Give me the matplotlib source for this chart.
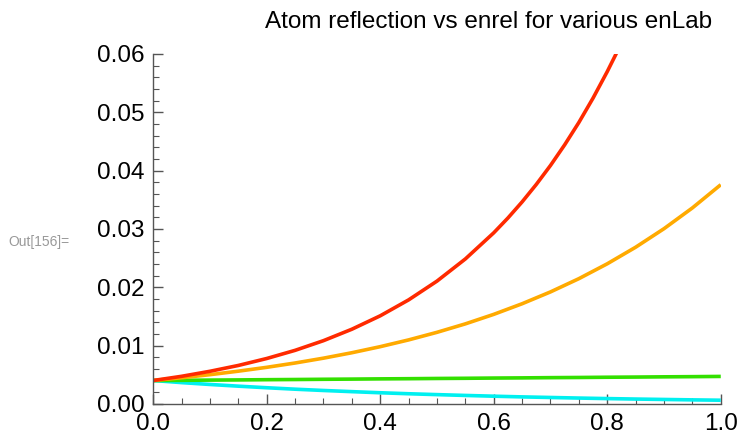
import matplotlib
matplotlib.use("Agg")
import matplotlib.pyplot as plt
from matplotlib.ticker import MultipleLocator

plt.rcParams['font.family'] = ['Liberation Sans', 'DejaVu Sans']

x = [0.00, 0.05, 0.10, 0.15, 0.20, 0.25, 0.30, 0.35, 0.40, 0.45, 0.50,
     0.55, 0.60, 0.65, 0.70, 0.75, 0.80, 0.85, 0.90, 0.95, 1.00]
x_red = [0.00, 0.05, 0.10, 0.15, 0.20, 0.25, 0.30, 0.35, 0.40, 0.45, 0.50,
         0.55, 0.60, 0.625, 0.65, 0.675, 0.70, 0.725, 0.75, 0.775, 0.80, 0.82]
red = [0.00400, 0.00472, 0.00558, 0.00658, 0.00777, 0.00917, 0.01083, 0.01279,
       0.01509, 0.01782, 0.02104, 0.02484, 0.02932, 0.03186, 0.03462, 0.03762,
       0.04087, 0.04441, 0.04824, 0.05242, 0.05696, 0.06086]
orange = [0.00400, 0.00447, 0.00500, 0.00560, 0.00626, 0.00700, 0.00783, 0.00876,
          0.00980, 0.01096, 0.01226, 0.01371, 0.01534, 0.01716, 0.01919, 0.02146,
          0.02401, 0.02685, 0.03003, 0.03359, 0.03757]
green = [0.00400, 0.00403, 0.00407, 0.00410, 0.00414, 0.00417, 0.00421, 0.00424,
         0.00428, 0.00431, 0.00435, 0.00438, 0.00442, 0.00445, 0.00449, 0.00452,
         0.00456, 0.00459, 0.00463, 0.00466, 0.00470]
cyan = [0.00400, 0.00364, 0.00332, 0.00303, 0.00276, 0.00251, 0.00229, 0.00209,
        0.00190, 0.00173, 0.00158, 0.00144, 0.00131, 0.00119, 0.00109, 0.00099,
        0.00090, 0.00082, 0.00075, 0.00068, 0.00062]

xticks = [0.0, 0.2, 0.4, 0.6, 0.8, 1.0]
yticks = [0.00, 0.01, 0.02, 0.03, 0.04, 0.05, 0.06]

fig = plt.figure(figsize=(7.40, 4.38), dpi=100)
ax = fig.add_axes([0.207, 0.078, 0.767, 0.799])

lw = 2.6
ax.plot(x, cyan, color='#00F0F0', lw=lw, solid_capstyle='butt')
ax.plot(x, green, color='#33E000', lw=lw, solid_capstyle='butt')
ax.plot(x, orange, color='#FFAA00', lw=lw, solid_capstyle='butt')
ax.plot(x_red, red, color='#FF2A00', lw=lw, solid_capstyle='butt')

ax.set_xlim(0, 1)
ax.set_ylim(0, 0.06)
ax.set_xticks(xticks)
ax.set_yticks(yticks)
ax.set_xticklabels([f"{t:.1f}" for t in xticks])
ax.set_yticklabels([f"{t:.2f}" for t in yticks])
ax.xaxis.set_minor_locator(MultipleLocator(0.05))
ax.yaxis.set_minor_locator(MultipleLocator(0.002))

for s in ['top', 'right']:
    ax.spines[s].set_visible(False)
for s in ['left', 'bottom']:
    ax.spines[s].set_color('#555555')
    ax.spines[s].set_linewidth(1.0)

ax.tick_params(which='major', direction='in', length=7, width=1.0,
               color='#555555', labelsize=17.5)
ax.tick_params(axis='y', which='major', pad=6)
ax.tick_params(axis='x', which='major', pad=6.5)
ax.tick_params(which='minor', direction='in', length=4, width=0.8,
               color='#555555')

fig.text(489 / 740, 1 - 22 / 438, "Atom reflection vs enrel for various enLab",
         fontsize=17.5, ha='center', va='center')

fig.text(0.011, 0.447, "Out[156]=", fontsize=10, color='#999999', va='center')

fig.savefig("out.png", dpi=100)
